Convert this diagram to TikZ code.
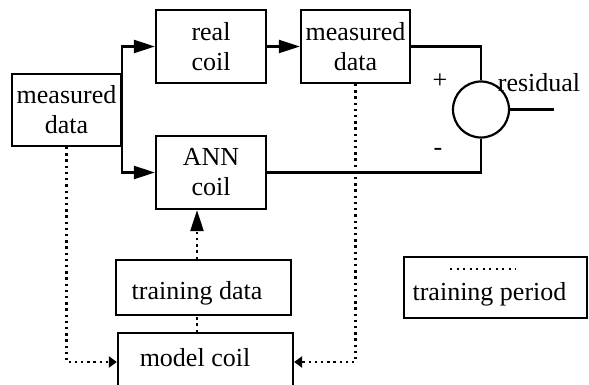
\documentclass[tikz,border=0pt]{standalone}
\usepackage{fontspec}
\setmainfont{Liberation Serif}
\usetikzlibrary{arrows.meta}

\tikzset{
  box/.style={draw, line width=2.2pt, inner sep=2pt, align=center},
  dotline/.style={line width=2.4pt, dash pattern=on 2.4pt off 3.8pt},
  bigtip/.style={-{Triangle[length=21pt,width=13pt]}},
  smalltip/.style={-{Triangle[length=8pt,width=11pt]}},
}

\begin{document}
\begin{tikzpicture}[x=1pt,y=-1pt,font=\fontsize{26}{30}\selectfont,line width=2.2pt]
\clip (0,0) rectangle (589,385);

% blocks
\node[box, minimum width=109, minimum height=72] (meas) at (66.5,110) {measured\\data};
\node[box, minimum width=110, minimum height=73] (real) at (211,46.5) {real\\coil};
\node[box, minimum width=110, minimum height=73] (ann) at (211,172.5) {ANN\\coil};
\node[box, minimum width=109, minimum height=73] (rmeas) at (355.5,46.5) {measured\\data};
\node[draw, circle, minimum size=56, inner sep=0pt] (sum) at (481,109.5) {};

\node[box, minimum width=175, minimum height=55] (train) at (203.5,287.5) {};
\node (traintxt) at (197,293) {training data};
\node[box, minimum width=175, minimum height=58] (model) at (205.5,362) {};
\node (modeltxt) at (195,358) {model coil};

% legend
\node[box, minimum width=183, minimum height=61] (leg) at (495.5,287.5) {};
\node (legtxt) at (489.5,294) {training period};
\coordinate (lega) at (450,269);
\coordinate (legb) at (516,269);
\draw[line width=1.6pt, dash pattern=on 2pt off 4.5pt] (lega) -- (legb);

% signs
\node (plus) at (440,81) {+};
\node (minus) at (438,152) {-};
\node (res) at (539,83) {residual};
\coordinate (out) at (554,109.5);

% solid lines
\draw[bigtip] (meas.east) |- (real.west);
\draw[bigtip] (meas.east) |- (ann.west);
\draw[bigtip] (real.east) -- (rmeas.west);
\draw (rmeas.east) -| (sum.north);
\draw (ann.east) -| (sum.south);
\draw (sum.east) -- (out);

% training period
\draw[dotline, smalltip] (meas.south) |- (model.west);
\draw[dotline, smalltip] (rmeas.south) |- (model.east);
\draw[dotline, bigtip] (train.north -| traintxt) -- (ann.south -| traintxt);
\draw[dotline] (model.north -| traintxt) -- (train.south -| traintxt);

\end{tikzpicture}
\end{document}
